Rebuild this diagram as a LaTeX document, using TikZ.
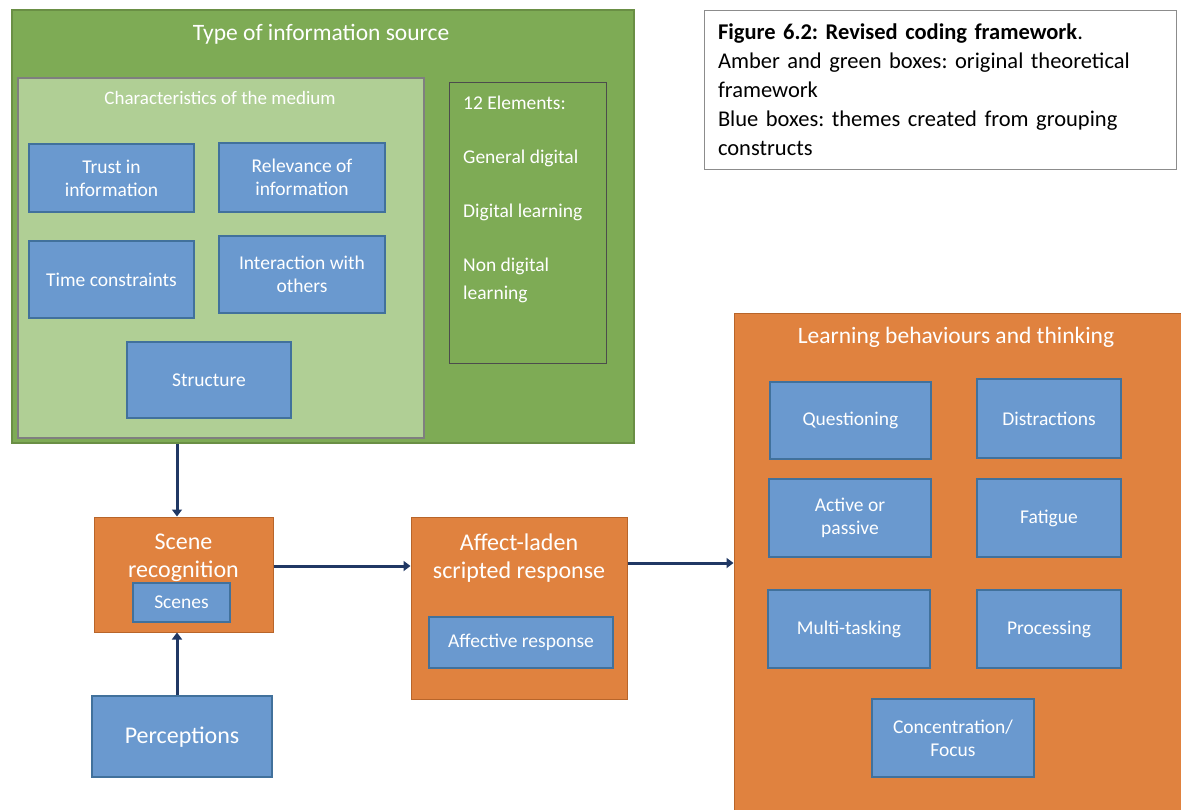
\documentclass[tikz,border=0pt]{standalone}
\usepackage{fontspec}
\setmainfont{Carlito}
\usepackage{tikz}
\usepackage{xcolor}
\definecolor{SourceGreen}{HTML}{7EAB55}
\definecolor{SourceBorder}{HTML}{6A8F45}
\definecolor{MediumGreen}{HTML}{B0CF95}
\definecolor{MediumBorder}{HTML}{7F7F7F}
\definecolor{ThemeBlue}{HTML}{6A99CF}
\definecolor{ThemeBorder}{HTML}{41719C}
\definecolor{StageOrange}{HTML}{E0823F}
\definecolor{StageBorder}{HTML}{B8652A}
\definecolor{FlowNavy}{HTML}{203864}
\definecolor{CaptionGray}{HTML}{8C8C8C}
\usetikzlibrary{positioning,arrows.meta}
\tikzset{
  theme/.style={draw=ThemeBorder, fill=ThemeBlue, line width=1.5pt, text=white, align=center, inner sep=2pt, font=\fontsize{19.5}{23}\selectfont},
  stage/.style={draw=StageBorder, fill=StageOrange, line width=1pt},
  heading/.style={text=white, align=center, font=\fontsize{23.5}{28}\selectfont},
  flow/.style={draw=FlowNavy, line width=3pt, -{Triangle[length=7pt,width=10pt]}},
}

\begin{document}
\frenchspacing
\begin{tikzpicture}[x=1pt, y=-1pt]
  \useasboundingbox[fill=white] (0,0) rectangle (1181,809);
  % information source (green)
  \node[draw=SourceBorder, fill=SourceGreen, line width=1.5pt, minimum width=622pt, minimum height=433pt] (source) at (323,226.5) {};
  \node[heading] (sourcetitle) at (321,34) {Type of information source};
  \node[draw=MediumBorder, fill=MediumGreen, line width=1.5pt, minimum width=406pt, minimum height=360pt] (medium) at (221,258) {};
  \node[text=white, font=\fontsize{19}{22}\selectfont] (mediumtitle) at (220,98) {Characteristics of the medium};
  \node[theme, minimum width=165pt, minimum height=68pt] (trust) at (111.5,178) {Trust in\\information};
  \node[theme, minimum width=166pt, minimum height=69pt] (relevance) at (302,177.5) {Relevance of\\information};
  \node[theme, minimum width=165pt, minimum height=77pt] (time) at (111.5,279.5) {Time constraints};
  \node[theme, minimum width=166pt, minimum height=77pt] (interaction) at (302,274.5) {Interaction with\\others};
  \node[theme, minimum width=164pt, minimum height=76pt] (structure) at (209,380) {Structure};
  \node[draw=black!70, fill=SourceGreen, line width=0.8pt, minimum width=157pt, minimum height=281pt] (elements) at (527.5,222.5) {};
  \node[anchor=north west, text=white, align=left, inner sep=0pt, font=\fontsize{19.5}{28}\selectfont] (elemlist) at (463,96)
    {12 Elements:\\[26pt]General digital\\[26pt]Digital learning\\[26pt]Non digital\\learning};
  % caption
  \node[draw=CaptionGray, line width=1pt, minimum width=472pt, minimum height=159pt, text width=444pt, inner xsep=14pt, align=left, font=\fontsize{22.5}{29}\selectfont] (caption) at (940,89.5)
    {\textbf{Figure 6.2: Revised coding framework}.\\Amber and green boxes: original theoretical\\framework\\Blue boxes: themes created from grouping\\constructs};
  % script stages (amber)
  \node[stage, minimum width=179pt, minimum height=115pt] (scene) at (183.5,574.5) {};
  \node[heading, font=\fontsize{24}{28}\selectfont] (scenetitle) at (183.5,558) {Scene\\recognition};
  \node[theme, minimum width=97pt, minimum height=39pt] (scenes) at (181.5,602.5) {Scenes};
  \node[theme, minimum width=180pt, minimum height=81pt, font=\fontsize{24}{28}\selectfont, text depth=2pt] (percep) at (182,736.5) {Perceptions};
  \node[stage, minimum width=216pt, minimum height=182pt] (affect) at (519,608) {};
  \node[heading, font=\fontsize{24}{28}\selectfont] (affecttitle) at (519,558) {Affect-laden\\scripted response};
  \node[theme, minimum width=184pt, minimum height=51pt] (affective) at (521,642.5) {Affective response};
  \begin{scope}
    \clip (0,0) rectangle (1181,809);
    \node[stage, minimum width=456pt, minimum height=507pt] (learn) at (962,566.5) {};
  \end{scope}
  \node[heading] (learntitle) at (956,337) {Learning behaviours and thinking};
  \node[theme, minimum width=161pt, minimum height=77pt] (question) at (850.5,420.5) {Questioning};
  \node[theme, minimum width=144pt, minimum height=79pt] (distract) at (1049,418.5) {Distractions};
  \node[theme, minimum width=162pt, minimum height=78pt] (active) at (850,518) {Active or\\passive};
  \node[theme, minimum width=144pt, minimum height=78pt] (fatigue) at (1049,518) {Fatigue};
  \node[theme, minimum width=162pt, minimum height=78pt] (multi) at (849,629) {Multi-tasking};
  \node[theme, minimum width=144pt, minimum height=78pt] (process) at (1049,629) {Processing};
  \node[theme, minimum width=162pt, minimum height=78pt] (focus) at (953,738) {Concentration/\\Focus};
  % connectors
  \draw[flow] ([xshift=-6.5pt]scene.north |- source.south) -- ([xshift=-6.5pt]scene.north);
  \draw[flow] ([xshift=-5pt]percep.north) -- ([xshift=-5pt]percep.north |- scene.south);
  \draw[flow] ([yshift=8.5pt]scene.east) -- ([yshift=8.5pt]scene.east -| affect.west);
  \draw[flow] ([yshift=45pt]affect.east) -- ([yshift=45pt]affect.east -| learn.west);
\end{tikzpicture}
\end{document}
